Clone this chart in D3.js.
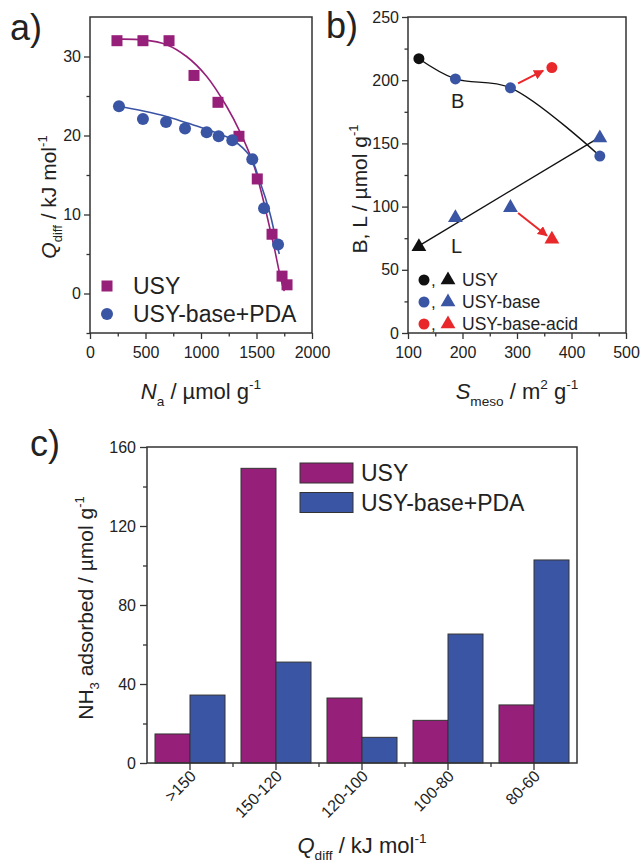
<!DOCTYPE html>
<html>
<head>
<meta charset="utf-8">
<script src="https://cdn.jsdelivr.net/npm/d3@7/dist/d3.min.js"></script>
<style>
  body { margin: 0; background: #fff; }
  text { font-family: "Liberation Sans", Arial, sans-serif; fill: #222; }
</style>
</head>
<body>
<svg id="svg"></svg>
<script>
// ---- panel a: differential heat vs. acid amount ----
const usyN = [243, 477, 712, 937, 1153, 1342, 1507, 1640, 1730, 1775];
const usyQ = [32.0, 32.0, 32.0, 27.6, 24.2, 19.9, 14.5, 7.5, 2.2, 1.1];
const pdaN = [261, 477, 685, 856, 1051, 1159, 1282, 1462, 1568, 1694];
const pdaQ = [23.7, 22.1, 21.7, 20.9, 20.4, 19.9, 19.4, 17.0, 10.8, 6.2];
// fitted lines
const usyFitN = [250, 480, 690, 870, 1050, 1230, 1350, 1470, 1540, 1600, 1660, 1720, 1750];
const usyFitQ = [32.2, 32.1, 31.5, 30.0, 27.5, 23.7, 20.5, 16.5, 13.0, 9.5, 5.8, 1.8, 0.3];
const pdaFitN = [261, 480, 690, 870, 1050, 1200, 1290, 1440, 1530, 1620, 1680, 1705];
const pdaFitQ = [23.7, 23.1, 22.4, 21.6, 20.8, 20.0, 19.4, 17.4, 14.2, 10.2, 6.5, 5.0];

// ---- panel b: B and L sites vs. mesopore surface ----
const sampleNames = ["USY", "USY-base", "USY-base-acid"];
const mesoArea = [120, 187, 288, 452];
const mesoSample = ["USY", "USY-base", "USY-base", "USY-base"];
const bronsted = [217, 201, 194, 140];
const lewis = [69, 92, 100, 155];
const acidArea = [364];
const acidB = [210];
const acidL = [75];
const arrowB = [[302, 197.5], [348, 207.5]];
const arrowL = [[302, 95], [355, 77]];

// ---- panel c: NH3 adsorbed per heat range ----
const heatBins = [">150", "150-120", "120-100", "100-80", "80-60"];
const usyAds = [14.7, 149.2, 32.9, 21.6, 29.4];
const pdaAds = [34.4, 51.1, 13.0, 65.3, 102.8];

const magenta = "#962079";
const blue = "#3b55a5";
const red = "#e8282b";
const colorOf = { "USY": "#111", "USY-base": blue, "USY-base-acid": red };

const W = 643, H = 862;
const svg = d3.select("#svg").attr("width", W).attr("height", H);
const fmt = d3.format("d");

function frame(x0, y0, x1, y1) {
  svg.append("rect")
    .attr("x", x0).attr("y", y0)
    .attr("width", x1 - x0).attr("height", y1 - y0)
    .attr("fill", "none").attr("stroke", "#333").attr("stroke-width", 1.5);
}

function styleAxis(g, size) {
  g.select(".domain").remove();
  g.selectAll(".tick line").attr("stroke", "#333").attr("stroke-width", 1.3);
  g.selectAll(".tick text").attr("font-size", size || 16).attr("fill", "#222")
    .attr("font-family", "Liberation Sans, Arial, sans-serif");
}

function subLabel(parent, parts, fs) {
  // parts: [text, kind] kind = "" | "sub" | "sup" | "it" | "back"
  parts.forEach(p => {
    const t = parent.append("tspan").text(p[0]);
    if (p[1] === "it") t.attr("font-style", "italic");
    if (p[1] === "sub") t.attr("font-size", fs * 0.62).attr("dy", fs * 0.3);
    if (p[1] === "sup") t.attr("font-size", fs * 0.62).attr("dy", -fs * 0.45);
    if (p[1] === "back") t.attr("dy", p[2]);
  });
}

// ===================== panel a =====================
const xA = d3.scaleLinear().domain([0, 2000]).range([90, 312]);
const yA = d3.scaleLinear().domain([-5, 35]).range([333, 17]);

svg.append("g").attr("transform", "translate(0,333)")
  .call(d3.axisBottom(xA).tickValues([0, 500, 1000, 1500, 2000]).tickFormat(fmt).tickSize(6).tickPadding(8))
  .call(styleAxis);
svg.append("g").attr("transform", "translate(0,333)")
  .call(d3.axisBottom(xA).tickValues([250, 750, 1250, 1750]).tickSize(3.5).tickFormat(""))
  .call(styleAxis);
svg.append("g").attr("transform", "translate(90,0)")
  .call(d3.axisLeft(yA).tickValues([0, 10, 20, 30]).tickFormat(fmt).tickSize(6).tickPadding(3))
  .call(styleAxis);
svg.append("g").attr("transform", "translate(90,0)")
  .call(d3.axisLeft(yA).tickValues([-5, 5, 15, 25]).tickSize(3.5).tickFormat(""))
  .call(styleAxis);
frame(90, 17, 312, 333);

const lineA = d3.line().x(d => xA(d[0])).y(d => yA(d[1])).curve(d3.curveCatmullRom);
svg.append("path").datum(d3.zip(usyFitN, usyFitQ)).attr("d", lineA)
  .attr("fill", "none").attr("stroke", magenta).attr("stroke-width", 1.6);
svg.append("path").datum(d3.zip(pdaFitN, pdaFitQ)).attr("d", lineA)
  .attr("fill", "none").attr("stroke", blue).attr("stroke-width", 1.6);

svg.append("g").selectAll("rect")
  .data(d3.zip(usyN, usyQ)).join("rect")
  .attr("x", d => xA(d[0]) - 5.5).attr("y", d => yA(d[1]) - 5.5)
  .attr("width", 11).attr("height", 11).attr("fill", magenta);
svg.append("g").selectAll("circle")
  .data(d3.zip(pdaN, pdaQ)).join("circle")
  .attr("cx", d => xA(d[0])).attr("cy", d => yA(d[1]))
  .attr("r", 6).attr("fill", blue);

// legend a
svg.append("rect").attr("x", 101.5).attr("y", 280.5).attr("width", 11).attr("height", 11).attr("fill", magenta);
svg.append("text").attr("x", 133).attr("y", 294).attr("font-size", 23).text("USY");
svg.append("circle").attr("cx", 107).attr("cy", 314).attr("r", 6).attr("fill", blue);
svg.append("text").attr("x", 133).attr("y", 322).attr("font-size", 23).text("USY-base+PDA");

// axis titles a
const tA = svg.append("text").attr("text-anchor", "middle").attr("font-size", 21)
  .attr("transform", "translate(56,197) rotate(-90)");
subLabel(tA, [["Q", "it"], ["diff", "sub"], [" / kJ mol", "back", -21 * 0.3], ["-1", "sup"]], 21);
const xtA = svg.append("text").attr("text-anchor", "middle").attr("font-size", 22)
  .attr("x", 201).attr("y", 399);
subLabel(xtA, [["N", "it"], ["a", "sub"], [" / µmol g", "back", -22 * 0.3], ["-1", "sup"]], 22);

svg.append("text").attr("x", 10).attr("y", 40).attr("font-size", 36).text("a)");

// ===================== panel b =====================
const xB = d3.scaleLinear().domain([100, 500]).range([408, 626]);
const yB = d3.scaleLinear().domain([0, 250]).range([333, 17]);

svg.append("g").attr("transform", "translate(0,333)")
  .call(d3.axisBottom(xB).tickValues([100, 200, 300, 400, 500]).tickFormat(fmt).tickSize(6).tickPadding(8))
  .call(styleAxis);
svg.append("g").attr("transform", "translate(0,333)")
  .call(d3.axisBottom(xB).tickValues([150, 250, 350, 450]).tickSize(3.5).tickFormat(""))
  .call(styleAxis);
svg.append("g").attr("transform", "translate(408,0)")
  .call(d3.axisLeft(yB).tickValues([0, 50, 100, 150, 200, 250]).tickFormat(fmt).tickSize(6).tickPadding(3))
  .call(styleAxis);
svg.append("g").attr("transform", "translate(408,0)")
  .call(d3.axisLeft(yB).tickValues([25, 75, 125, 175, 225]).tickSize(3.5).tickFormat(""))
  .call(styleAxis);
frame(408, 17, 626, 333);

const lineB = d3.line().x(d => xB(d[0])).y(d => yB(d[1]));
svg.append("path").datum(d3.zip(mesoArea, bronsted)).attr("d", lineB.curve(d3.curveCatmullRom))
  .attr("fill", "none").attr("stroke", "#111").attr("stroke-width", 1.4);
svg.append("path").datum([[mesoArea[0], lewis[0]], [mesoArea[3], lewis[3]]])
  .attr("d", d3.line().x(d => xB(d[0])).y(d => yB(d[1])))
  .attr("fill", "none").attr("stroke", "#111").attr("stroke-width", 1.4);

// red arrows
svg.append("defs").append("marker").attr("id", "head")
  .attr("viewBox", "0 0 10 10").attr("refX", 9).attr("refY", 5)
  .attr("markerWidth", 5).attr("markerHeight", 5).attr("orient", "auto")
  .append("path").attr("d", "M0,0 L10,5 L0,10 Z").attr("fill", red);
[arrowB, arrowL].forEach(a => {
  svg.append("line")
    .attr("x1", xB(a[0][0])).attr("y1", yB(a[0][1]))
    .attr("x2", xB(a[1][0])).attr("y2", yB(a[1][1]))
    .attr("stroke", red).attr("stroke-width", 2).attr("marker-end", "url(#head)");
});

const tri = d3.symbol().type(d3.symbolTriangle).size(95);
svg.append("g").selectAll("path")
  .data(d3.zip(mesoArea, lewis, mesoSample)).join("path")
  .attr("d", tri).attr("transform", d => `translate(${xB(d[0])},${yB(d[1]) + 1})`)
  .attr("fill", d => colorOf[d[2]]);
svg.append("g").selectAll("circle")
  .data(d3.zip(mesoArea, bronsted, mesoSample)).join("circle")
  .attr("cx", d => xB(d[0])).attr("cy", d => yB(d[1]))
  .attr("r", 5.5).attr("fill", d => colorOf[d[2]]);
svg.append("circle").attr("cx", xB(acidArea[0])).attr("cy", yB(acidB[0])).attr("r", 5.5).attr("fill", red);
svg.append("path").attr("d", tri).attr("transform", `translate(${xB(acidArea[0])},${yB(acidL[0]) + 1})`).attr("fill", red);

svg.append("text").attr("x", xB(191)).attr("y", yB(178)).attr("text-anchor", "middle").attr("font-size", 20).text("B");
svg.append("text").attr("x", xB(189)).attr("y", yB(63)).attr("text-anchor", "middle").attr("font-size", 20).text("L");

// legend b
sampleNames.forEach((name, i) => {
  const cy = 280 + i * 22;
  svg.append("circle").attr("cx", 424).attr("cy", cy).attr("r", 5.5).attr("fill", colorOf[name]);
  svg.append("text").attr("x", 431).attr("y", cy + 6).attr("font-size", 17).text(",");
  svg.append("path").attr("d", tri).attr("transform", `translate(448,${cy})`).attr("fill", colorOf[name]);
  svg.append("text").attr("x", 462).attr("y", cy + 6).attr("font-size", 17.5).text(name);
});

const tB = svg.append("text").attr("text-anchor", "middle").attr("font-size", 21)
  .attr("transform", "translate(367,189) rotate(-90)");
subLabel(tB, [["B, L / µmol g", ""], ["-1", "sup"]], 21);
const xtB = svg.append("text").attr("text-anchor", "middle").attr("font-size", 22)
  .attr("x", 517).attr("y", 399);
subLabel(xtB, [["S", "it"], ["meso", "sub"], [" / m", "back", -22 * 0.3], ["2", "sup"], [" g", "back", 22 * 0.45], ["-1", "sup"]], 22);

svg.append("text").attr("x", 326).attr("y", 38).attr("font-size", 36).text("b)");

// ===================== panel c =====================
const xC = d3.scaleBand().domain(heatBins).range([147, 577]);
const xSub = d3.scaleBand().domain(["USY", "PDA"]).range([8, xC.bandwidth() - 8]);
const yC = d3.scaleLinear().domain([0, 160]).range([763, 447]);

svg.append("g").attr("transform", "translate(0,763)")
  .call(d3.axisBottom(xC).tickSize(7).tickFormat(""))
  .call(styleAxis);
svg.append("g").attr("transform", "translate(0,763)").selectAll("line")
  .data(heatBins.slice(1)).join("line")
  .attr("x1", d => xC(d)).attr("x2", d => xC(d)).attr("y1", 0).attr("y2", 4)
  .attr("stroke", "#333").attr("stroke-width", 1.3);
svg.append("g").attr("transform", "translate(147,0)")
  .call(d3.axisLeft(yC).tickValues([0, 40, 80, 120, 160]).tickSize(7).tickPadding(4))
  .call(styleAxis);
svg.append("g").attr("transform", "translate(147,0)")
  .call(d3.axisLeft(yC).tickValues([20, 60, 100, 140]).tickSize(4).tickFormat(""))
  .call(styleAxis);

const groups = svg.append("g").selectAll("g")
  .data(heatBins).join("g")
  .attr("transform", d => `translate(${xC(d)},0)`);
groups.append("rect")
  .attr("x", xSub("USY")).attr("width", xSub.bandwidth())
  .attr("y", (d, i) => yC(usyAds[i])).attr("height", (d, i) => yC(0) - yC(usyAds[i]))
  .attr("fill", magenta).attr("stroke", "#333").attr("stroke-width", 1);
groups.append("rect")
  .attr("x", xSub("PDA")).attr("width", xSub.bandwidth())
  .attr("y", (d, i) => yC(pdaAds[i])).attr("height", (d, i) => yC(0) - yC(pdaAds[i]))
  .attr("fill", blue).attr("stroke", "#333").attr("stroke-width", 1);
frame(147, 447, 577, 763);

svg.append("g").selectAll("text")
  .data(heatBins).join("text")
  .attr("transform", d => `translate(${xC(d) + xC.bandwidth() / 2 - 1},769) rotate(-45)`)
  .attr("text-anchor", "end").attr("dy", "0.72em").attr("font-size", 16)
  .text(d => d);

// legend c
svg.append("rect").attr("x", 300).attr("y", 463).attr("width", 53).attr("height", 20)
  .attr("fill", magenta).attr("stroke", "#333").attr("stroke-width", 1);
svg.append("text").attr("x", 361).attr("y", 481).attr("font-size", 23).text("USY");
svg.append("rect").attr("x", 300).attr("y", 492.5).attr("width", 53).attr("height", 20)
  .attr("fill", blue).attr("stroke", "#333").attr("stroke-width", 1);
svg.append("text").attr("x", 361).attr("y", 511).attr("font-size", 23).text("USY-base+PDA");

const tC = svg.append("text").attr("text-anchor", "middle").attr("font-size", 21)
  .attr("transform", "translate(93,608) rotate(-90)");
subLabel(tC, [["NH", ""], ["3", "sub"], [" adsorbed / µmol g", "back", -21 * 0.3], ["-1", "sup"]], 21);
const xtC = svg.append("text").attr("text-anchor", "middle").attr("font-size", 22)
  .attr("x", 362).attr("y", 853);
subLabel(xtC, [["Q", "it"], ["diff", "sub"], [" / kJ mol", "back", -22 * 0.3], ["-1", "sup"]], 22);

svg.append("text").attr("x", 30).attr("y", 456).attr("font-size", 36).text("c)");
</script>
</body>
</html>
